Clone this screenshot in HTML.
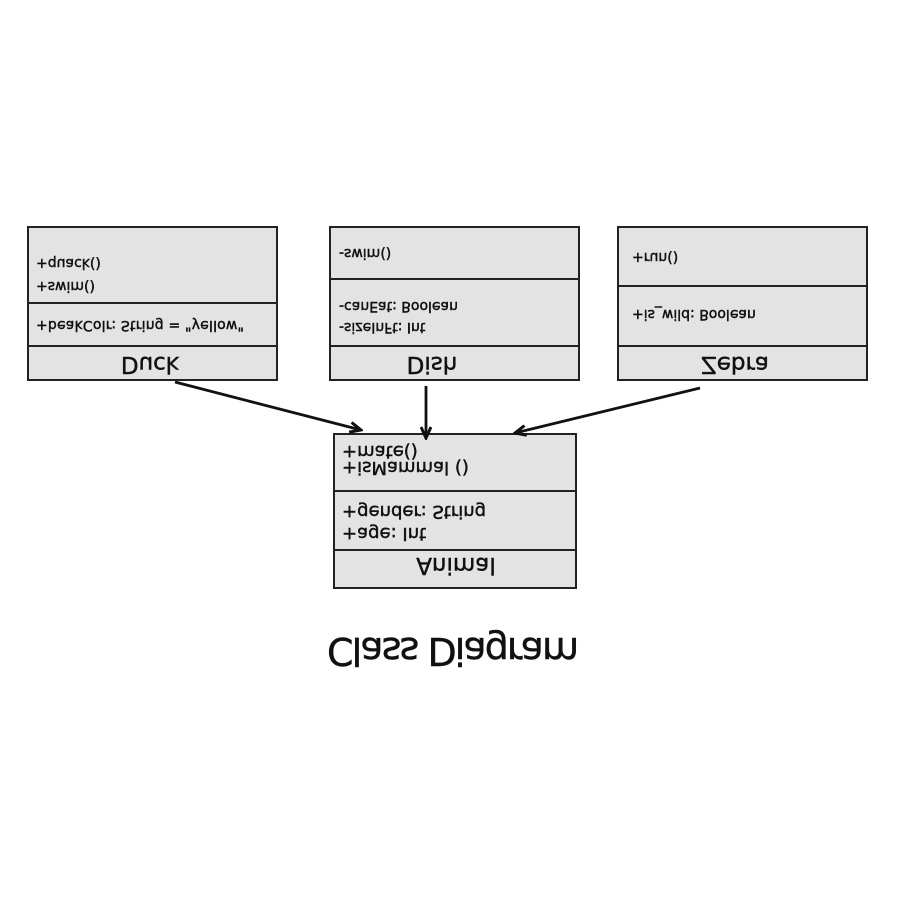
<!DOCTYPE html>
<html><head><meta charset="utf-8"><style>
html,body{margin:0;padding:0;background:#fff;}
svg{display:block;}
text{font-family:"DejaVu Sans","Liberation Sans",sans-serif;fill:#111;stroke:#111;stroke-width:0.45;}
</style></head><body>
<svg width="900" height="900" viewBox="0 0 900 900" xmlns="http://www.w3.org/2000/svg">
<defs>
<marker id="ah" markerWidth="14" markerHeight="12" refX="12" refY="6" orient="auto" markerUnits="userSpaceOnUse">
<path d="M1,1 L12,6 L1,11" fill="none" stroke="#111" stroke-width="3"/>
</marker>
</defs>
<g fill="#e3e3e3" stroke="#222" stroke-width="2">
<rect x="28" y="227" width="249" height="153"/>
<line x1="28" y1="303" x2="277" y2="303"/><line x1="28" y1="346" x2="277" y2="346"/>
<rect x="330" y="227" width="249" height="153"/>
<line x1="330" y1="279" x2="579" y2="279"/><line x1="330" y1="346" x2="579" y2="346"/>
<rect x="618" y="227" width="249" height="153"/>
<line x1="618" y1="286" x2="867" y2="286"/><line x1="618" y1="346" x2="867" y2="346"/>
<rect x="334" y="434" width="242" height="154"/>
<line x1="334" y1="491" x2="576" y2="491"/><line x1="334" y1="550" x2="576" y2="550"/>
</g>
<g stroke="#111" stroke-width="2.8" fill="none">
<line x1="175" y1="382" x2="361" y2="430" marker-end="url(#ah)"/>
<line x1="426" y1="386" x2="426" y2="438" marker-end="url(#ah)"/>
<line x1="700" y1="388" x2="515" y2="433" marker-end="url(#ah)"/>
</g>
<g font-size="14">
<text transform="translate(36,259) scale(1,-1)">+quack()</text>
<text transform="translate(36,282) scale(1,-1)">+swim()</text>
<text transform="translate(36,321) scale(1,-1)" textLength="208">+beakColr: String = "yellow"</text>
<text transform="translate(339,249) scale(1,-1)">-swim()</text>
<text transform="translate(339,302) scale(1,-1)">-canEat: Boolean</text>
<text transform="translate(339,323) scale(1,-1)">-sizeInFt: Int</text>
<text transform="translate(632,253) scale(1,-1)">+run()</text>
<text transform="translate(632,310) scale(1,-1)">+is_wild: Boolean</text>
</g>
<g font-size="18">
<text transform="translate(342,446) scale(1,-1)">+mate()</text>
<text transform="translate(342,462) scale(1,-1)">+isMammal ()</text>
<text transform="translate(342,506) scale(1,-1)">+gender: String</text>
<text transform="translate(342,528) scale(1,-1)">+age: Int</text>
</g>
<g font-size="23" text-anchor="middle">
<text transform="translate(150,357) scale(1,-1)">Duck</text>
<text transform="translate(432,357) scale(1,-1)">Dish</text>
<text transform="translate(735,357) scale(1,-1)">Zebra</text>
<text transform="translate(456,558) scale(1,-1)">Animal</text>
</g>
<text transform="translate(453,638) scale(1,-1)" font-size="38" text-anchor="middle" textLength="252">Class Diagram</text>
</svg>
</body></html>
